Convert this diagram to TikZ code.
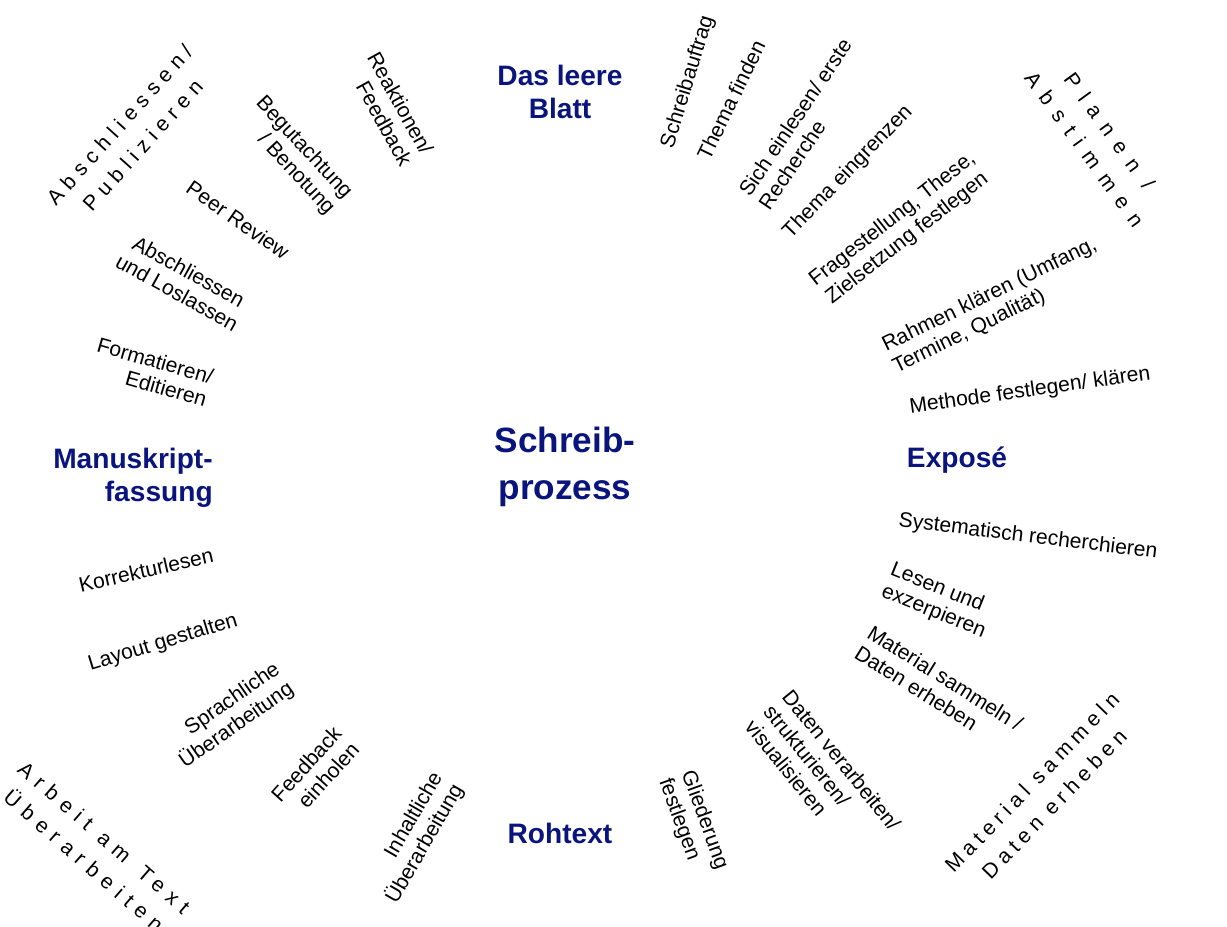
\documentclass[tikz,border=0pt]{standalone}
\usepackage{fontspec}
\setmainfont{Liberation Sans}
\definecolor{headBlue}{RGB}{10,20,125}

\begin{document}
\begin{tikzpicture}[x=0.025cm, y=-0.025cm,
	phase/.style={font=\fontsize{20}{23.5}\selectfont\bfseries, text=headBlue, align=center, inner sep=0pt},
	task/.style={font=\fontsize{15}{17}\selectfont, inner sep=0pt},
	stage/.style={font=\fontsize{15}{22}\selectfont\addfontfeature{LetterSpace=#1}, align=center, inner sep=0pt}]
	
	\useasboundingbox (0,0) rectangle (1227,926);
	
	%Phases
	\node [phase] (leeresBlatt) at (560,92) {Das leere\\Blatt};
	\node [phase, font=\fontsize{25}{33.4}\selectfont\bfseries] (schreibprozess) at (565,467) {Schreib-\\prozess};
	\node [phase] (expose) at (957,460) {Exposé};
	\node [phase, align=right] (manuskript) at (133,478) {Manuskript-\\fassung};
	\node [phase] (rohtext) at (560,833) {Rohtext};
	
	%Stages (spaced)
	\node [stage=30, rotate=48] (publizieren) at (131,135) {Abschliessen/\\Publizieren};
	\node [stage=48, rotate=-54] (planen) at (1097,140) {Planen /\\Abstimmen};
	\node [stage=25, rotate=46] (sammeln) at (1043,793) {Material sammeln\\Daten erheben};
	\node [stage=35, rotate=-41] (arbeitAmText) at (94,849) {Arbeit am \,Text\\Überarbeiten};
	
	%Tasks: Das leere Blatt -> Exposé
	\node [task, rotate=73] (schreibauftrag) at (688,82) {Schreibauftrag};
	\node [task, rotate=64] (themaFinden) at (731,100) {Thema finden};
	\node [task, rotate=56, align=left] (einlesen) at (805,124) {Sich einlesen/ erste\\Recherche};
	\node [task, rotate=46] (themaEingrenzen) at (848,172) {Thema eingrenzen};
	\node [task, rotate=38, align=center] (fragestellung) at (900,229) {Fragestellung, These,\\Zielsetzung festlegen};
	\node [task, rotate=26, align=left] (rahmen) at (995,306) {Rahmen klären (Umfang,\\Termine, Qualität)};
	\node [task, rotate=8] (methode) at (1030,391) {Methode festlegen/ klären};
	
	%Tasks: Exposé -> Rohtext
	\node [task, rotate=-7] (recherchieren) at (1028,537) {Systematisch recherchieren};
	\node [task, rotate=-22, align=left] (lesen) at (938,601) {Lesen und\\exzerpieren};
	\node [task, rotate=-32, align=left] (material) at (939,688) {Material sammeln /\\Daten erheben};
	\node [task, rotate=-51, align=left] (datenVerarbeiten) at (823,775) {Daten verarbeiten/\\strukturieren/\\visualisieren};
	\node [task, rotate=-70, align=left] (gliederung) at (693,824) {Gliederung\\festlegen};
	
	%Tasks: Rohtext -> Manuskriptfassung
	\node [task, rotate=60, align=right] (inhaltlich) at (415,838) {Inhaltliche\\Überarbeitung};
	\node [task, rotate=48, align=right] (feedbackEinholen) at (315,772) {Feedback\\einholen};
	\node [task, rotate=35, align=right] (sprachlich) at (230,716) {Sprachliche\\Überarbeitung};
	\node [task, rotate=17] (layout) at (163,643) {Layout gestalten};
	\node [task, rotate=13] (korrektur) at (146,570) {Korrekturlesen};
	
	%Tasks: Manuskriptfassung -> Das leere Blatt
	\node [task, rotate=-16, align=right] (formatieren) at (152,372) {Formatieren/\\Editieren};
	\node [task, rotate=-29, align=center] (loslassen) at (183,282) {Abschliessen\\und Loslassen};
	\node [task, rotate=-35] (peerReview) at (238,220) {Peer Review};
	\node [task, rotate=-47, align=right] (begutachtung) at (295,156) {Begutachtung\\/ Benotung};
	\node [task, rotate=-61, align=right] (reaktionen) at (390,109) {Reaktionen/\\Feedback};
	
\end{tikzpicture}
\end{document}
